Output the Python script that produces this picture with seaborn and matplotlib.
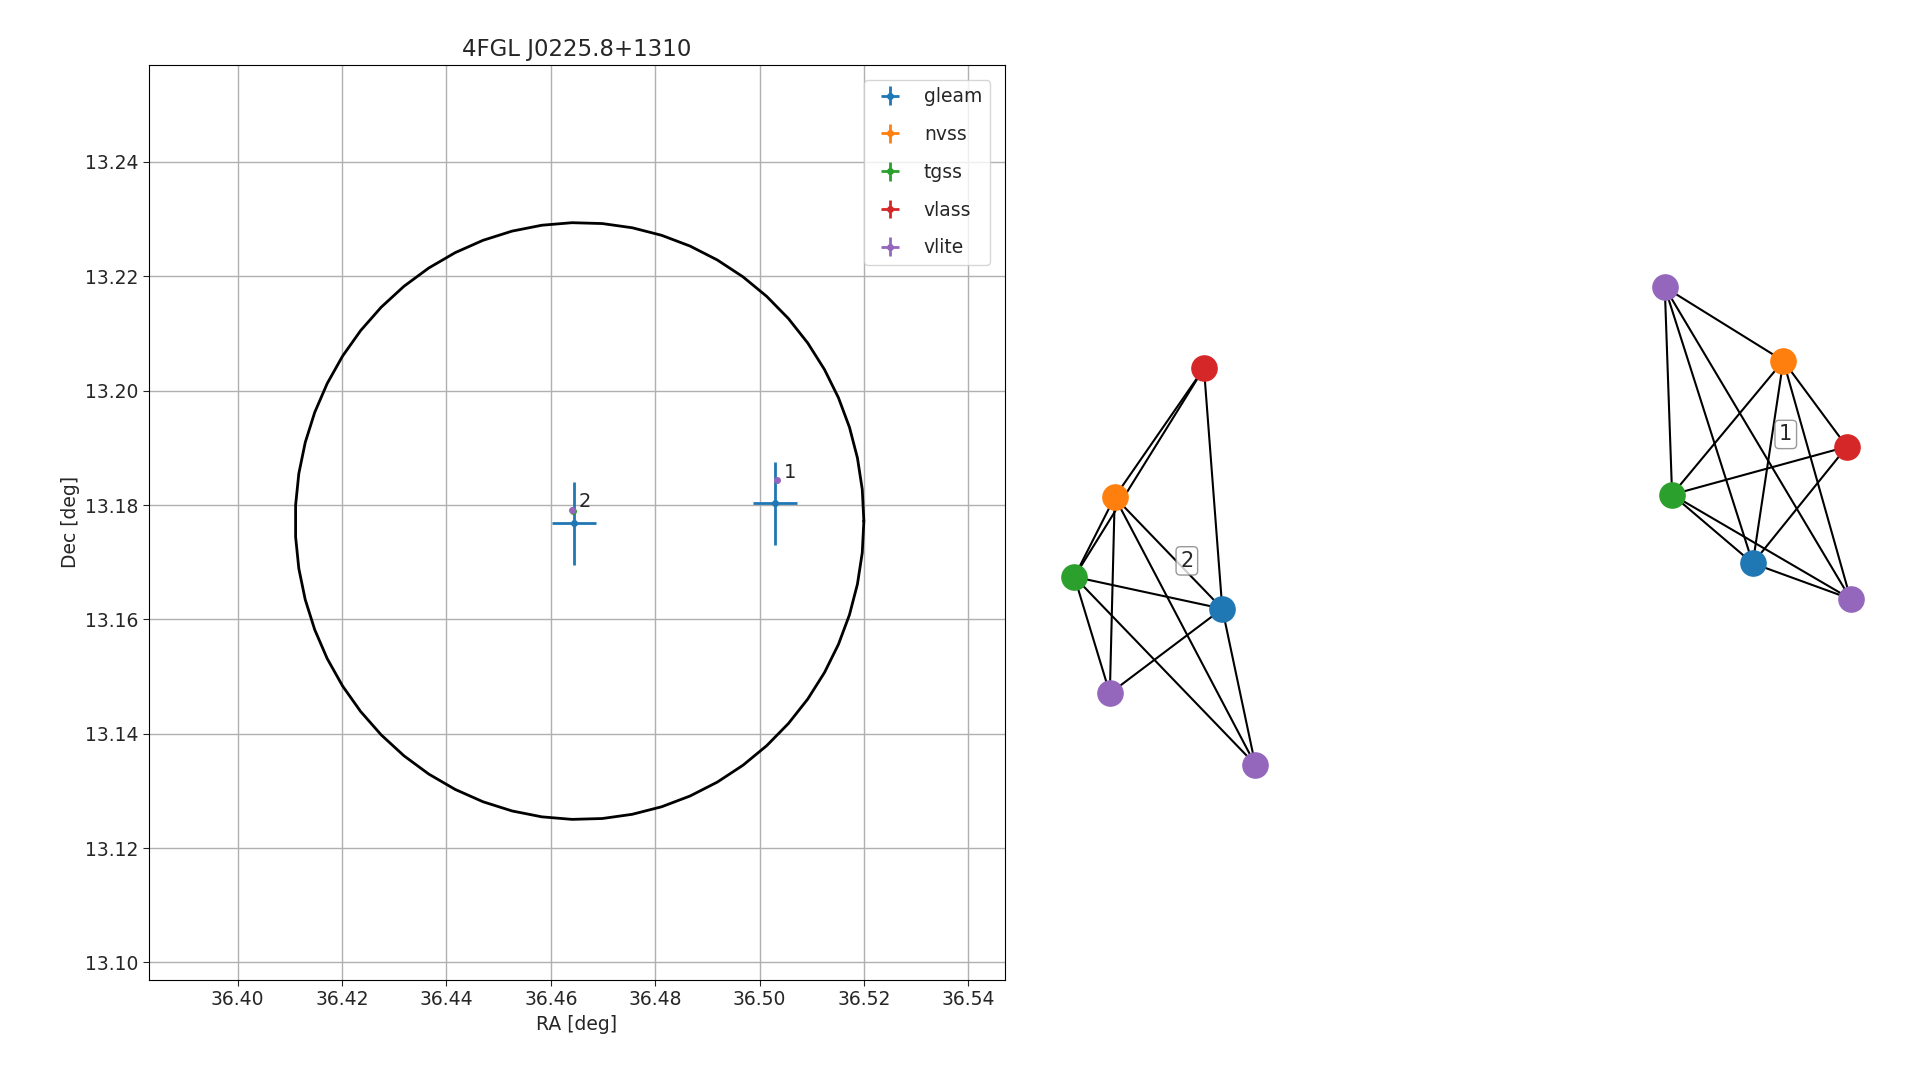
import numpy as np
import matplotlib
matplotlib.use("Agg")
import matplotlib.pyplot as plt
import seaborn as sns

sns.set_style("white")
plt.rcParams['font.family'] = ['DejaVu Sans']

# catalogue positions
surveys = ["gleam", "nvss", "tgss", "vlass", "vlite"]
colors = sns.color_palette("tab10")[:5]
gleam_ra = [36.503, 36.4645]
gleam_dec = [13.1803, 13.1768]
gleam_raerr = [0.0042, 0.0042]
gleam_decerr = [0.0073, 0.0073]
vlite_ra = [36.5033, 36.4641]
vlite_dec = [13.1843, 13.1792]
vlite_raerr = [0.0004, 0.0004]
vlite_decerr = [0.0004, 0.0004]
tgss_ra = [36.4643]
tgss_dec = [13.1790]
labels = ["1", "2"]

# 4FGL ellipse
ell_ra, ell_dec = 36.4655, 13.1772
ell_a, ell_b = 0.0545, 0.0522

# graph layouts (pixel space of a 1570x880 canvas)
W, H = 1570, 880
node_color = {"gleam": 0, "nvss": 1, "tgss": 2, "vlass": 3, "vlite": 4}
g2_nodes = {"vlass": (985, 300), "nvss": (912, 405), "tgss": (879, 470),
            "gleam": (1000, 496), "vlite_a": (908, 565), "vlite_b": (1027, 623)}
g2_edges = [("vlass", "nvss"), ("vlass", "tgss"), ("vlass", "gleam"), ("nvss", "tgss"),
            ("nvss", "vlite_a"), ("nvss", "gleam"), ("nvss", "vlite_b"), ("tgss", "gleam"),
            ("tgss", "vlite_a"), ("tgss", "vlite_b"), ("gleam", "vlite_a"), ("gleam", "vlite_b")]
g1_nodes = {"vlite_a": (1362, 234), "nvss": (1459, 294), "vlass": (1511, 364),
            "tgss": (1368, 403), "gleam": (1434, 459), "vlite_b": (1514, 488)}
g1_edges = [("vlite_a", "nvss"), ("vlite_a", "tgss"), ("vlite_a", "gleam"), ("vlite_a", "vlite_b"),
            ("nvss", "tgss"), ("nvss", "gleam"), ("nvss", "vlass"), ("nvss", "vlite_b"),
            ("vlass", "tgss"), ("vlass", "gleam"), ("tgss", "gleam"), ("tgss", "vlite_b"),
            ("gleam", "vlite_b")]

fig = plt.figure(figsize=(19.19, 10.8), dpi=100)
ax = fig.add_axes([122 / W, 0.093, 700 / W, 0.847])

t = np.linspace(0, 2 * np.pi, 60)
ax.plot(ell_ra + ell_a * np.cos(t), ell_dec + ell_b * np.sin(t), color="black", lw=2)

kw = dict(fmt="o", ms=4, lw=2)
ax.errorbar(gleam_ra, gleam_dec, xerr=gleam_raerr, yerr=gleam_decerr, color=colors[0], label="gleam", **kw)
ax.errorbar([], [], xerr=[], yerr=[], color=colors[1], label="nvss", **kw)
ax.errorbar(tgss_ra, tgss_dec, xerr=[0.0002], yerr=[0.0002], color=colors[2], label="tgss", **kw)
ax.errorbar([], [], xerr=[], yerr=[], color=colors[3], label="vlass", **kw)
ax.errorbar(vlite_ra, vlite_dec, xerr=vlite_raerr, yerr=vlite_decerr, color=colors[4], label="vlite", **kw)
for r, d, l in zip(vlite_ra, vlite_dec, labels):
    ax.text(r + 0.0013, d + 0.0005, l, fontsize=14)

ax.set_xlim(36.383, 36.547)
ax.set_ylim(13.097, 13.257)
ax.set_xticks(np.arange(36.40, 36.5401, 0.02))
ax.set_yticks(np.arange(13.10, 13.2401, 0.02))
ax.xaxis.set_major_formatter(matplotlib.ticker.FormatStrFormatter("%.2f"))
ax.yaxis.set_major_formatter(matplotlib.ticker.FormatStrFormatter("%.2f"))
ax.grid(True, color="#b0b0b0", lw=1)
for s in ax.spines.values():
    s.set_color("black")
ax.tick_params(labelsize=13.5, left=True, bottom=True, length=4)
ax.set_xlabel("RA [deg]", fontsize=13.5)
ax.set_ylabel("Dec [deg]", fontsize=13.5)
ax.set_title("4FGL J0225.8+1310", fontsize=16.5)
ax.legend(fontsize=13.5, loc="upper right", labelspacing=1.0, borderaxespad=0.8)

gx = fig.add_axes([837 / W, 0, (W - 837) / W, 1])
gx.set_xlim(837, W)
gx.set_ylim(H, 0)
gx.axis("off")
for nodes, edges, lab, lpos in [(g2_nodes, g2_edges, "2", (971, 457)),
                                (g1_nodes, g1_edges, "1", (1461, 354))]:
    for a, b in edges:
        gx.plot([nodes[a][0], nodes[b][0]], [nodes[a][1], nodes[b][1]], color="black", lw=1.5, zorder=1)
    for k, (x, y) in nodes.items():
        gx.scatter(x, y, s=330, color=colors[node_color[k.split("_")[0]]], zorder=2)
    gx.text(lpos[0], lpos[1], lab, fontsize=15, ha="center", va="center", zorder=3,
            bbox=dict(boxstyle="round,pad=0.2", fc="white", ec="gray", alpha=0.8))

fig.savefig("out.png", dpi=100)
